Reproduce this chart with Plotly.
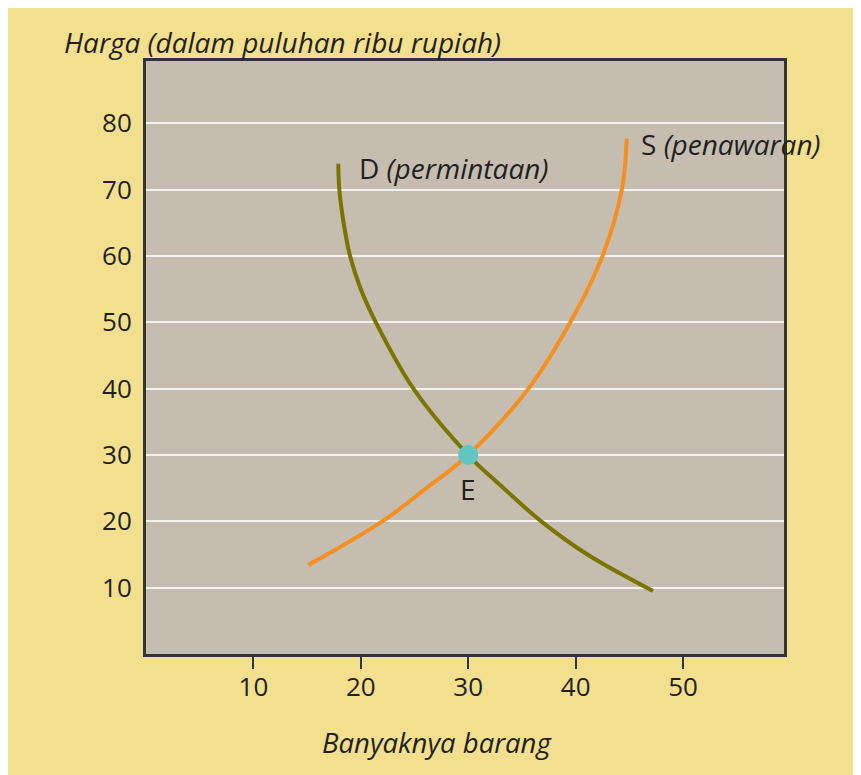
import plotly.graph_objects as go

# Demand curve D (permintaan)
D_x = [17.9, 18.0, 18.4, 19.0, 20.0, 21.4, 24.9, 30.0, 33.3, 36.8, 41.1, 47.2]
D_y = [73.9, 70.0, 65.0, 60.0, 55.0, 50.0, 40.0, 30.0, 25.0, 20.0, 15.0, 9.5]
# Supply curve S (penawaran)
S_x = [15.1, 22.0, 26.1, 30.0, 35.6, 39.5, 42.5, 44.3, 44.76]
S_y = [13.4, 20.0, 25.0, 30.0, 40.0, 50.0, 60.0, 70.0, 77.7]
# Equilibrium point
E_x = [30]
E_y = [30]

x_ticks = [10, 20, 30, 40, 50]
y_ticks = [10, 20, 30, 40, 50, 60, 70, 80]

FONT = "Open Sans"
IFONT = "Open Sans"
TXT = "#231f20"

W, H = 861, 775
OFF = 8  # page offset of the figure
L, T = 146 - OFF, 61 - OFF
PW, PH = 638, 593
R = W - L - PW
B = H - T - PH

def px(xp):
    return (xp - OFF - L) / PW

def py(yp):
    return (T + PH - (yp - OFF)) / PH

fig = go.Figure()
fig.add_trace(go.Scatter(x=D_x, y=D_y, mode="lines", line=dict(color="#7a7400", width=4, shape="spline", smoothing=1.0), hoverinfo="skip"))
fig.add_trace(go.Scatter(x=S_x, y=S_y, mode="lines", line=dict(color="#f58f1f", width=4, shape="spline", smoothing=1.0), hoverinfo="skip"))
fig.add_trace(go.Scatter(x=E_x, y=E_y, mode="markers", marker=dict(color="#5fc6c2", size=20, line=dict(width=0)), hoverinfo="skip"))

ann = [
    dict(x=px(357), y=py(168), xref="paper", yref="paper", text="D <i>(permintaan)</i>", xanchor="left", yanchor="middle",
         showarrow=False, font=dict(family=FONT, size=28, color=TXT)),
    dict(x=px(639), y=py(144), xref="paper", yref="paper", text="S <i>(penawaran)</i>", xanchor="left", yanchor="middle",
         showarrow=False, font=dict(family=FONT, size=28, color=TXT)),
    dict(x=px(468), y=py(489), xref="paper", yref="paper", text="E", xanchor="center", yanchor="middle",
         showarrow=False, font=dict(family=FONT, size=28, color=TXT)),
    dict(x=px(62), y=py(42), xref="paper", yref="paper", text="<i>Harga (dalam puluhan ribu rupiah)</i>", showarrow=False,
         xanchor="left", yanchor="middle", font=dict(family=IFONT, size=28, color=TXT)),
    dict(x=px(437), y=py(742), xref="paper", yref="paper", text="<i>Banyaknya barang</i>", showarrow=False,
         xanchor="center", yanchor="middle", font=dict(family=IFONT, size=27.5, color=TXT)),
]

fig.update_layout(
    width=W, height=H,
    margin=dict(l=L, r=R, t=T, b=B, pad=0),
    paper_bgcolor="#f3e08f",
    plot_bgcolor="#c4bdb0",
    showlegend=False,
    annotations=ann,
    font=dict(family=FONT, size=26, color=TXT),
)
fig.update_xaxes(range=[0, 59.4], tickvals=x_ticks, ticks="outside", ticklen=12, tickwidth=2, tickcolor="#333333",
                 showgrid=False, zeroline=False, showline=True, mirror=True, linecolor="#333333", linewidth=3,
                 ticklabelstandoff=-4, tickfont=dict(family=FONT, size=26, color=TXT))
fig.update_yaxes(range=[0, 89.4], tickvals=y_ticks, ticks="", showgrid=True, gridcolor="#f4f2ee", gridwidth=2,
                 zeroline=False, showline=True, mirror=True, linecolor="#333333", linewidth=3,
                 ticklabelstandoff=6, tickfont=dict(family=FONT, size=26, color=TXT))

fig.write_html("out.html")
